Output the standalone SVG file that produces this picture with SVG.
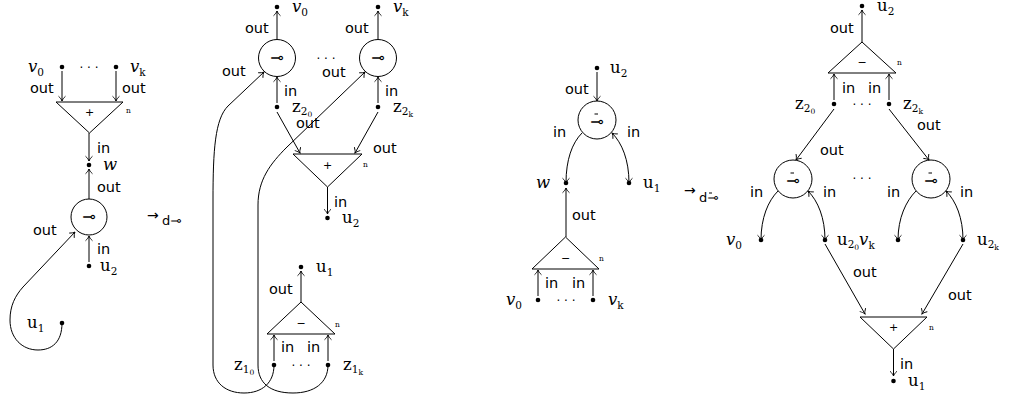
<svg xmlns="http://www.w3.org/2000/svg" width="1012" height="398" viewBox="0 0 1012 398">
<style>
.bg{fill:#fff}
.e{fill:none;stroke:#000;stroke-width:1}
.a{marker-end:url(#ah)}
.s{fill:none;stroke:#000;stroke-width:1}
.d{fill:#000}
.l{font-family:"DejaVu Sans",sans-serif;font-size:14.5px;fill:#000}
.m{font-family:"DejaVu Serif",serif;font-size:16.5px;fill:#000}
.i{font-style:italic}
.sb{font-size:10.5px}
.ss{font-size:7.5px}
.n{font-family:"DejaVu Serif",serif;font-size:7.5px;fill:#000}
.op{font-family:"DejaVu Sans",sans-serif;font-size:11px;text-anchor:middle;fill:#000}
.sym{font-family:"DejaVu Sans",sans-serif;font-size:16px;text-anchor:middle;fill:#000}
.dots{font-family:"DejaVu Sans",sans-serif;font-size:12px;text-anchor:middle;fill:#000}
.ar{font-family:"DejaVu Sans",sans-serif;font-size:14px;fill:#000}
.ars{font-family:"DejaVu Sans",sans-serif;font-size:13px;fill:#000}
</style>
<defs>
<marker id="ah" markerUnits="userSpaceOnUse" viewBox="-6 -5 7 10" refX="0" refY="0" markerWidth="7" markerHeight="10" orient="auto-start-reverse" overflow="visible">
<path d="M-4.5,-3.2 C-3,-1.5 -1.2,-0.4 0,0 C-1.2,0.4 -3,1.5 -4.5,3.2" fill="none" stroke="#000" stroke-width="0.9" stroke-linecap="round"/>
</marker>
</defs>
<rect class="bg" x="0" y="0" width="1012" height="398"/>

<g id="connectors">
<!-- diagram 1 -->
<path class="e a" d="M62,71 L62,101"/>
<path class="e a" d="M116,71 L116,101"/>
<path class="e a" d="M89,133 L89,161"/>
<path class="e a" d="M89,199 L89,169"/>
<path class="e a" d="M89,262 L89,236"/>
<path class="e a" d="M62,323 C62,342 52,350 38,350 C22,350 10,338 10,320 C10,306 15,296 23,287 L75,232"/>
<!-- diagram 2 -->
<path class="e a" d="M277,39 L277,11"/>
<path class="e a" d="M378,39 L378,11"/>
<path class="e a" d="M277,103 L277,77"/>
<path class="e a" d="M378,103 L378,77"/>
<path class="e a" d="M277,112 L300,153"/>
<path class="e a" d="M378,112 L355,153"/>
<path class="e a" d="M327.5,187 L327.5,214"/>
<path class="e a" d="M301,302 L301,271"/>
<path class="e a" d="M274,361 L274,335"/>
<path class="e a" d="M328,361 L328,335"/>
<path class="e a" d="M274,365 C274,383 262,393 244,393 C226,393 213,383 213,365 L213,200 C213,150 215,119 228,106 L264,72"/>
<path class="e a" d="M328,365 C328,383 314,393 293,393 C270,393 258,383 258,365 L258,205 C258,180 270,164 287,147 L365,72"/>
<!-- diagram 3 -->
<path class="e a" d="M597,72 L597,101"/>
<path class="e a" d="M582,133 C572,143 566,160 566,183"/>
<path class="e a" d="M612,133 C622,143 629,160 629,183" style="marker-start:url(#ah)"/>
<path class="e a" d="M566,237 L566,188"/>
<path class="e a" d="M538,296 L538,270"/>
<path class="e a" d="M593,296 L593,270"/>
<!-- diagram 4 -->
<path class="e a" d="M862,42 L862,10"/>
<path class="e a" d="M834,100 L834,74"/>
<path class="e a" d="M889,100 L889,74"/>
<path class="e a" d="M834,109 L796,160"/>
<path class="e a" d="M889,109 L929,160"/>
<path class="e a" d="M778,191 C768,201 761,218 761,240"/>
<path class="e a" d="M808,191 C818,201 825,218 825,240" style="marker-start:url(#ah)"/>
<path class="e a" d="M916,191 C906,201 898,218 898,240"/>
<path class="e a" d="M946,191 C956,201 963,218 963,240" style="marker-start:url(#ah)"/>
<path class="e a" d="M825,244 L865,314"/>
<path class="e a" d="M963,244 L922,314"/>
<path class="e a" d="M893.5,349 L893.5,376"/>

<g id="edge-labels">
<text class="l" x="30" y="93">out</text>
<text class="l" x="122" y="93">out</text>
<text class="l" x="97" y="153">in</text>
<text class="l" x="97" y="192">out</text>
<text class="l" x="33" y="235">out</text>
<text class="l" x="97" y="254">in</text>

<text class="l" x="245" y="33">out</text>
<text class="l" x="345" y="33">out</text>
<text class="l" x="222" y="76">out</text>
<text class="l" x="322" y="77">out</text>
<text class="l" x="284" y="96">in</text>
<text class="l" x="385" y="96">in</text>
<text class="l" x="296" y="128">out</text>
<text class="l" x="373" y="153">out</text>
<text class="l" x="334" y="207">in</text>
<text class="l" x="269" y="294">out</text>
<text class="l" x="281" y="352">in</text>
<text class="l" x="307" y="352">in</text>

<text class="l" x="565" y="94">out</text>
<text class="l" x="553" y="137">in</text>
<text class="l" x="627" y="137">in</text>
<text class="l" x="572" y="220">out</text>
<text class="l" x="545" y="288">in</text>
<text class="l" x="572" y="288">in</text>

<text class="l" x="830" y="33">out</text>
<text class="l" x="842" y="93">in</text>
<text class="l" x="868" y="93">in</text>
<text class="l" x="917" y="130">out</text>
<text class="l" x="820" y="155">out</text>
<text class="l" x="750" y="197">in</text>
<text class="l" x="823" y="197">in</text>
<text class="l" x="887" y="197">in</text>
<text class="l" x="960" y="197">in</text>
<text class="l" x="853" y="277">out</text>
<text class="l" x="948" y="300">out</text>
<text class="l" x="900" y="369">in</text>
</g>
</g>

<!-- ===== Diagram 1 ===== -->
<g id="d1-v0"><circle class="d" cx="62" cy="67" r="2.3"/><text class="m" x="28" y="72"><tspan class="i">v</tspan><tspan class="sb" dy="4">0</tspan></text></g>
<g id="d1-ellipsis"><text class="dots" x="89" y="72">· · ·</text></g>
<g id="d1-vk"><circle class="d" cx="116" cy="67" r="2.3"/><text class="m" x="130" y="72"><tspan class="i">v</tspan><tspan class="sb" dy="4">k</tspan></text></g>
<g id="d1-plus"><polygon class="s" points="56,102 123,102 89.5,133"/><text class="op" x="89.5" y="116">+</text><text class="n" x="126" y="113">n</text></g>
<g id="d1-w"><circle class="d" cx="89" cy="165" r="2.3"/><text class="m i" x="103" y="170">w</text></g>
<g id="d1-lolli"><circle class="s" cx="89" cy="217" r="18"/><text class="sym" x="89" y="222">⊸</text></g>
<g id="d1-u2"><circle class="d" cx="89" cy="266" r="2.3"/><text class="m" x="100" y="271">u<tspan class="sb" dy="4">2</tspan></text></g>
<g id="d1-u1"><circle class="d" cx="62" cy="323" r="2.3"/><text class="m" x="27" y="328">u<tspan class="sb" dy="4">1</tspan></text></g>
<g id="arrow1"><text class="ar" x="147" y="219.5">→</text><text class="ars" x="162" y="225">d⊸</text></g>

<!-- ===== Diagram 2 ===== -->
<g id="d2-v0"><circle class="d" cx="277" cy="7" r="2.3"/><text class="m" x="292" y="12"><tspan class="i">v</tspan><tspan class="sb" dy="4">0</tspan></text></g>
<g id="d2-vk"><circle class="d" cx="378" cy="7" r="2.3"/><text class="m" x="393" y="12"><tspan class="i">v</tspan><tspan class="sb" dy="4">k</tspan></text></g>
<g id="d2-lolli0"><circle class="s" cx="277" cy="58" r="18.5"/><text class="sym" x="277" y="63">⊸</text></g>
<g id="d2-ellipsis-top"><text class="dots" x="326" y="63">· · ·</text></g>
<g id="d2-lollik"><circle class="s" cx="378" cy="58" r="18.5"/><text class="sym" x="378" y="63">⊸</text></g>
<g id="d2-z20"><circle class="d" cx="277" cy="107" r="2.3"/><text class="m" x="292" y="112">z<tspan class="sb" dy="3">2</tspan><tspan class="ss" dy="2">0</tspan></text></g>
<g id="d2-z2k"><circle class="d" cx="378" cy="107" r="2.3"/><text class="m" x="393" y="112">z<tspan class="sb" dy="3">2</tspan><tspan class="ss" dy="2">k</tspan></text></g>
<g id="d2-plus"><polygon class="s" points="293,154 362,154 327.5,187"/><text class="op" x="327.5" y="169">+</text><text class="n" x="363" y="167">n</text></g>
<g id="d2-u2"><circle class="d" cx="327.5" cy="218" r="2.3"/><text class="m" x="342" y="223">u<tspan class="sb" dy="4">2</tspan></text></g>
<g id="d2-u1"><circle class="d" cx="301" cy="267" r="2.3"/><text class="m" x="316" y="272">u<tspan class="sb" dy="4">1</tspan></text></g>
<g id="d2-minus"><polygon class="s" points="267,334 335,334 301,302"/><text class="op" x="301" y="327">−</text><text class="n" x="335" y="327">n</text></g>
<g id="d2-z10"><circle class="d" cx="274" cy="365" r="2.3"/><text class="m" x="234" y="370">z<tspan class="sb" dy="3">1</tspan><tspan class="ss" dy="2">0</tspan></text></g>
<g id="d2-ellipsis-bot"><text class="dots" x="301" y="370">· · ·</text></g>
<g id="d2-z1k"><circle class="d" cx="328" cy="365" r="2.3"/><text class="m" x="343" y="370">z<tspan class="sb" dy="3">1</tspan><tspan class="ss" dy="2">k</tspan></text></g>

<!-- ===== Diagram 3 ===== -->
<g id="d3-u2"><circle class="d" cx="597" cy="68" r="2.3"/><text class="m" x="610" y="73">u<tspan class="sb" dy="4">2</tspan></text></g>
<g id="d3-lolli"><circle class="s" cx="597" cy="120" r="19"/><text class="sym" x="597" y="127">⊸</text><line class="s" x1="594.5" y1="114" x2="598" y2="114"/></g>
<g id="d3-w"><circle class="d" cx="566" cy="183" r="2.3"/><text class="m i" x="536" y="188">w</text></g>
<g id="d3-u1"><circle class="d" cx="629" cy="183" r="2.3"/><text class="m" x="643" y="188">u<tspan class="sb" dy="4">1</tspan></text></g>
<g id="d3-minus"><polygon class="s" points="532,269 599,269 565.5,237"/><text class="op" x="565.5" y="262">−</text><text class="n" x="599" y="261">n</text></g>
<g id="d3-v0"><circle class="d" cx="538" cy="300" r="2.3"/><text class="m" x="506" y="305"><tspan class="i">v</tspan><tspan class="sb" dy="4">0</tspan></text></g>
<g id="d3-ellipsis"><text class="dots" x="566" y="305">· · ·</text></g>
<g id="d3-vk"><circle class="d" cx="593" cy="300" r="2.3"/><text class="m" x="608" y="305"><tspan class="i">v</tspan><tspan class="sb" dy="4">k</tspan></text></g>
<g id="arrow2"><text class="ar" x="684" y="194.5">→</text><text class="ars" x="699" y="202">d⊸</text><line class="s" x1="709" y1="193" x2="712" y2="193"/></g>

<!-- ===== Diagram 4 ===== -->
<g id="d4-u2"><circle class="d" cx="862" cy="6" r="2.3"/><text class="m" x="877" y="11">u<tspan class="sb" dy="4">2</tspan></text></g>
<g id="d4-minus"><polygon class="s" points="828,73 896,73 862,42"/><text class="op" x="862" y="66">−</text><text class="n" x="897" y="65">n</text></g>
<g id="d4-z20"><circle class="d" cx="834" cy="104" r="2.3"/><text class="m" x="795" y="109">z<tspan class="sb" dy="3">2</tspan><tspan class="ss" dy="2">0</tspan></text></g>
<g id="d4-ellipsis-top"><text class="dots" x="862" y="109">· · ·</text></g>
<g id="d4-z2k"><circle class="d" cx="889" cy="104" r="2.3"/><text class="m" x="903" y="109">z<tspan class="sb" dy="3">2</tspan><tspan class="ss" dy="2">k</tspan></text></g>
<g id="d4-lolli0"><circle class="s" cx="793" cy="179" r="19"/><text class="sym" x="793" y="186">⊸</text><line class="s" x1="790.5" y1="173" x2="794" y2="173"/></g>
<g id="d4-ellipsis-mid"><text class="dots" x="862" y="183">· · ·</text></g>
<g id="d4-lollik"><circle class="s" cx="931" cy="179" r="19"/><text class="sym" x="931" y="186">⊸</text><line class="s" x1="928.5" y1="173" x2="932" y2="173"/></g>
<g id="d4-v0"><circle class="d" cx="761" cy="240" r="2.3"/><text class="m" x="726" y="245"><tspan class="i">v</tspan><tspan class="sb" dy="4">0</tspan></text></g>
<g id="d4-u20"><circle class="d" cx="825" cy="240" r="2.3"/><text class="m" x="837" y="245">u<tspan class="sb" dy="3">2</tspan><tspan class="ss" dy="2">0</tspan><tspan class="i" dy="-5">v</tspan><tspan class="sb" dy="4">k</tspan></text></g>
<g id="d4-vk"><circle class="d" cx="898" cy="240" r="2.3"/></g>
<g id="d4-u2k"><circle class="d" cx="963" cy="240" r="2.3"/><text class="m" x="977" y="245">u<tspan class="sb" dy="3">2</tspan><tspan class="ss" dy="2">k</tspan></text></g>
<g id="d4-plus"><polygon class="s" points="860,317 927,317 893.5,349"/><text class="op" x="893.5" y="331">+</text><text class="n" x="929" y="330">n</text></g>
<g id="d4-u1"><circle class="d" cx="893.5" cy="381" r="2.3"/><text class="m" x="908" y="386">u<tspan class="sb" dy="4">1</tspan></text></g>
</svg>
